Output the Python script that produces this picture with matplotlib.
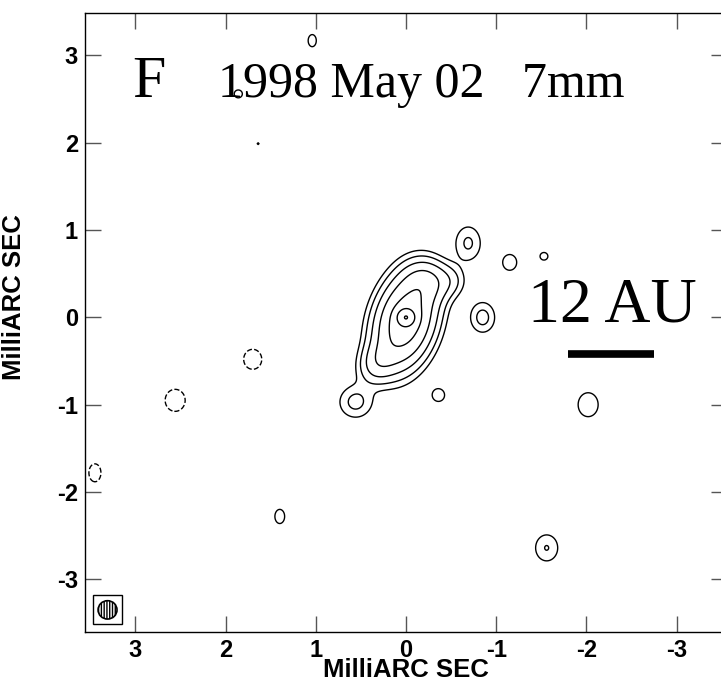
import numpy as np
import matplotlib.pyplot as plt
from matplotlib.patches import Ellipse, Rectangle

# Gaussian components of the map (RA offset mas, Dec offset mas, peak, sigma major, sigma minor, angle deg)
comp_x = [0.00, 0.01, -0.22, 0.30, 0.56, -0.48,
          -0.69, -1.15, -1.53, -0.85, -0.36, -2.02, -1.56, 1.40, 1.04, 1.86, 1.64,
          1.70, 2.56, 3.45]
comp_y = [0.00, -0.04, 0.40, -0.50, -0.97, 0.42,
          0.85, 0.63, 0.70, 0.00, -0.89, -1.00, -2.64, -2.28, 3.17, 2.56, 1.99,
          -0.48, -0.95, -1.78]
comp_amp = [42.0, 24.0, 7.0, 5.0, 2.4, 2.0,
            2.2, 1.5, 1.3, 2.5, 1.5, 1.5, 2.05, 1.5, 1.5, 1.4, 1.02,
            -1.5, -1.5, -1.5]
comp_smaj = [0.06, 0.31, 0.15, 0.16, 0.13, 0.12,
             0.147, 0.10, 0.06, 0.125, 0.08, 0.152, 0.124, 0.09, 0.077, 0.055, 0.05,
             0.127, 0.14, 0.114]
comp_smin = [0.06, 0.18, 0.15, 0.12, 0.13, 0.12,
             0.106, 0.086, 0.06, 0.098, 0.075, 0.123, 0.102, 0.06, 0.05, 0.055, 0.05,
             0.111, 0.123, 0.074]
comp_pa = [0, 105, 0, 120, 0, 0,
           90, 90, 90, 90, 90, 90, 90, 90, 90, 90, 90,
           90, 90, 90]

pos_levels = [1, 2, 4, 8, 16, 32, 64]
neg_levels = [-1]

ticks = [-3, -2, -1, 0, 1, 2, 3]

# build the map
gx = np.linspace(3.7, -3.7, 741)
gy = np.linspace(-3.7, 3.7, 741)
X, Y = np.meshgrid(gx, gy)
Z = np.zeros_like(X)
for x0, y0, a, smaj, smin, pa in zip(comp_x, comp_y, comp_amp, comp_smaj, comp_smin, comp_pa):
    t = np.radians(pa)
    dx = X - x0
    dy = Y - y0
    u = dx * np.cos(t) + dy * np.sin(t)
    v = -dx * np.sin(t) + dy * np.cos(t)
    Z += a * np.exp(-0.5 * ((u / smaj) ** 2 + (v / smin) ** 2))

fig = plt.figure(figsize=(7.21, 6.81), dpi=100)
ax = fig.add_axes([85 / 721, 49.3 / 681, 642 / 721, 619 / 681])

ax.contour(X, Y, Z, levels=pos_levels, colors='k', linewidths=1.0)
ax.contour(X, Y, Z, levels=neg_levels, colors='k', linewidths=1.0, linestyles='--')

ax.set_xlim(3.56, -3.56)
ax.set_ylim(-3.60, 3.49)

ax.set_xticks(ticks)
ax.set_yticks(ticks)
ax.set_xticklabels([str(v) for v in ticks])
ax.set_yticklabels([str(v) for v in ticks])
ax.tick_params(direction='in', length=11.5, width=1.0, color='#555555',
               top=True, right=True, labelsize=17, pad=5)
for lab in ax.get_xticklabels() + ax.get_yticklabels():
    lab.set_fontfamily('Liberation Sans')
    lab.set_fontweight('bold')
for sp in ax.spines.values():
    sp.set_linewidth(1.0)

ax.set_xlabel('MilliARC SEC', fontsize=18.5, fontweight='bold', family='Liberation Sans')
ax.set_ylabel('MilliARC SEC', fontsize=18.5, fontweight='bold', family='Liberation Sans')
ax.xaxis.set_label_coords(0.5, -0.042)
ax.yaxis.set_label_coords(-0.092, 0.54)

# labels inside the map
ax.text(3.04, 2.52, 'F', fontsize=43, family='Liberation Serif', ha='left', va='baseline')
ax.text(2.09, 2.52, '1998 May 02   7mm', fontsize=36, family='Liberation Serif', ha='left', va='baseline')
ax.text(-1.35, -0.05, '12 AU', fontsize=46, family='Liberation Serif', ha='left', va='baseline')
ax.plot([-1.80, -2.75], [-0.42, -0.42], color='k', linewidth=5.5, solid_capstyle='butt')

# beam
ax.add_patch(Rectangle((3.15, -3.51), 0.32, 0.33, facecolor='none', edgecolor='k', linewidth=1.0))
plt.rcParams['hatch.linewidth'] = 1.0
ax.add_patch(Ellipse((3.31, -3.35), 0.21, 0.21, facecolor='white', edgecolor='k',
                     linewidth=1.2, hatch='||||||'))

fig.savefig('out.png', dpi=100)
